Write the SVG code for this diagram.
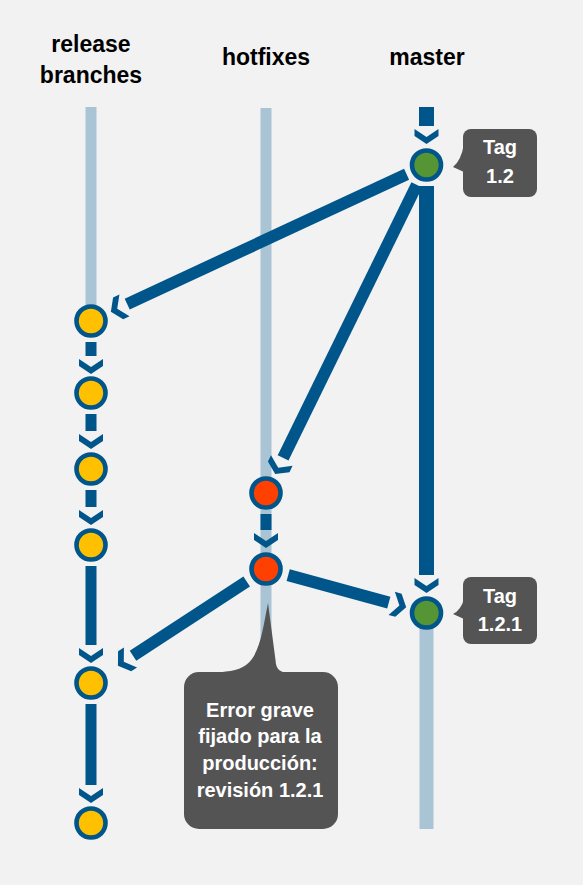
<svg xmlns="http://www.w3.org/2000/svg" width="583" height="885" viewBox="0 0 583 885">
<style>
.hdr{font-family:"Liberation Sans",Arial,sans-serif;font-weight:bold;font-size:23px;fill:#000;text-anchor:middle}
.tt{font-family:"Liberation Sans",Arial,sans-serif;font-weight:bold;font-size:20px;fill:#fff;text-anchor:middle}
.ct{font-family:"Liberation Sans",Arial,sans-serif;font-weight:bold;font-size:20px;fill:#fff;text-anchor:middle}
.lane{fill:#a9c4d5}
.sh{stroke:#00558a;fill:none;stroke-linecap:butt;marker-end:url(#chev)}
.v{stroke-width:11}
.m{stroke-width:15}
.d{stroke-width:12}
.node{stroke:#00558a;stroke-width:4.6}
.y{fill:#ffc000}
.r{fill:#ff4000}
.g{fill:#559535}
.call{fill:#545454}
</style>
<defs>
<marker id="chev" markerUnits="userSpaceOnUse" viewBox="0 -15 20 30" markerWidth="20" markerHeight="30" refX="0" refY="0" orient="auto" overflow="visible">
<path d="M3,-12 L11,0 L3,12 L10,12 L18,0 L10,-12 Z" fill="#00558a"/>
</marker>
</defs>
<rect width="583" height="885" fill="#f2f2f2"/>

<g id="headers">
<text class="hdr" x="91" y="52">release</text>
<text class="hdr" x="91" y="83">branches</text>
<text class="hdr" x="266" y="65">hotfixes</text>
<text class="hdr" x="427" y="65">master</text>
</g>

<g id="lanes">
<rect class="lane" x="85.5" y="107" width="11" height="200"/>
<rect class="lane" x="260.5" y="108" width="11" height="580"/>
<rect class="lane" x="419.5" y="613" width="14" height="216"/>
</g>

<g id="connectors">
<line class="sh m" x1="426.5" y1="107" x2="426.5" y2="126"/>
<line class="sh m" x1="426.5" y1="186" x2="426.5" y2="575"/>
<line class="sh d" x1="406.6" y1="174.3" x2="127.2" y2="304.1"/>
<line class="sh d" x1="416.8" y1="184.8" x2="283.1" y2="457.9"/>
<line class="sh v" x1="266" y1="514" x2="266" y2="530"/>
<line class="sh d" x1="288.2" y1="575.1" x2="388.8" y2="602.6"/>
<line class="sh d" x1="246.7" y1="581.6" x2="133" y2="655.8"/>
<line class="sh v" x1="91" y1="342" x2="91" y2="356"/>
<line class="sh v" x1="91" y1="414" x2="91" y2="431"/>
<line class="sh v" x1="91" y1="490" x2="91" y2="507"/>
<line class="sh v" x1="91" y1="566" x2="91" y2="645"/>
<line class="sh v" x1="91" y1="704" x2="91" y2="785"/>
</g>

<g id="release-1"><circle class="node y" cx="91" cy="321" r="14.5"/></g>
<g id="release-2"><circle class="node y" cx="91" cy="393" r="14.5"/></g>
<g id="release-3"><circle class="node y" cx="91" cy="469" r="14.5"/></g>
<g id="release-4"><circle class="node y" cx="91" cy="545" r="14.5"/></g>
<g id="release-5"><circle class="node y" cx="91" cy="683" r="14.5"/></g>
<g id="release-6"><circle class="node y" cx="91" cy="823" r="14.5"/></g>
<g id="hotfix-1"><circle class="node r" cx="266" cy="493" r="14.5"/></g>
<g id="hotfix-2"><circle class="node r" cx="266" cy="569" r="14.5"/></g>
<g id="master-1"><circle class="node g" cx="426.5" cy="165" r="14.5"/></g>
<g id="master-2"><circle class="node g" cx="426.5" cy="613" r="14.5"/></g>

<g id="tag-1-2">
<rect class="call" x="463" y="129" width="74" height="68" rx="8"/>
<path class="call" d="M464,144 Q461,161 453,167 L464,172 Z"/>
<text class="tt" x="500" y="154">Tag</text>
<text class="tt" x="500" y="183">1.2</text>
</g>

<g id="tag-1-2-1">
<rect class="call" x="463" y="577" width="74" height="67" rx="8"/>
<path class="call" d="M464,599 Q461,610 453,614 L464,619 Z"/>
<text class="tt" x="500" y="603">Tag</text>
<text class="tt" x="500" y="631">1.2.1</text>
</g>

<g id="callout-error">
<path class="call" d="M268,603 C263,628 260,655 246,665 C238,671 225,672 210,673 L292,673 C280,673 276,670 275.5,660 Z"/>
<rect class="call" x="184" y="672" width="154" height="157" rx="15"/>
<text class="ct" x="260" y="717">Error grave</text>
<text class="ct" x="260" y="743">fijado para la</text>
<text class="ct" x="260" y="770">producción:</text>
<text class="ct" x="260" y="797">revisión 1.2.1</text>
</g>
</svg>
